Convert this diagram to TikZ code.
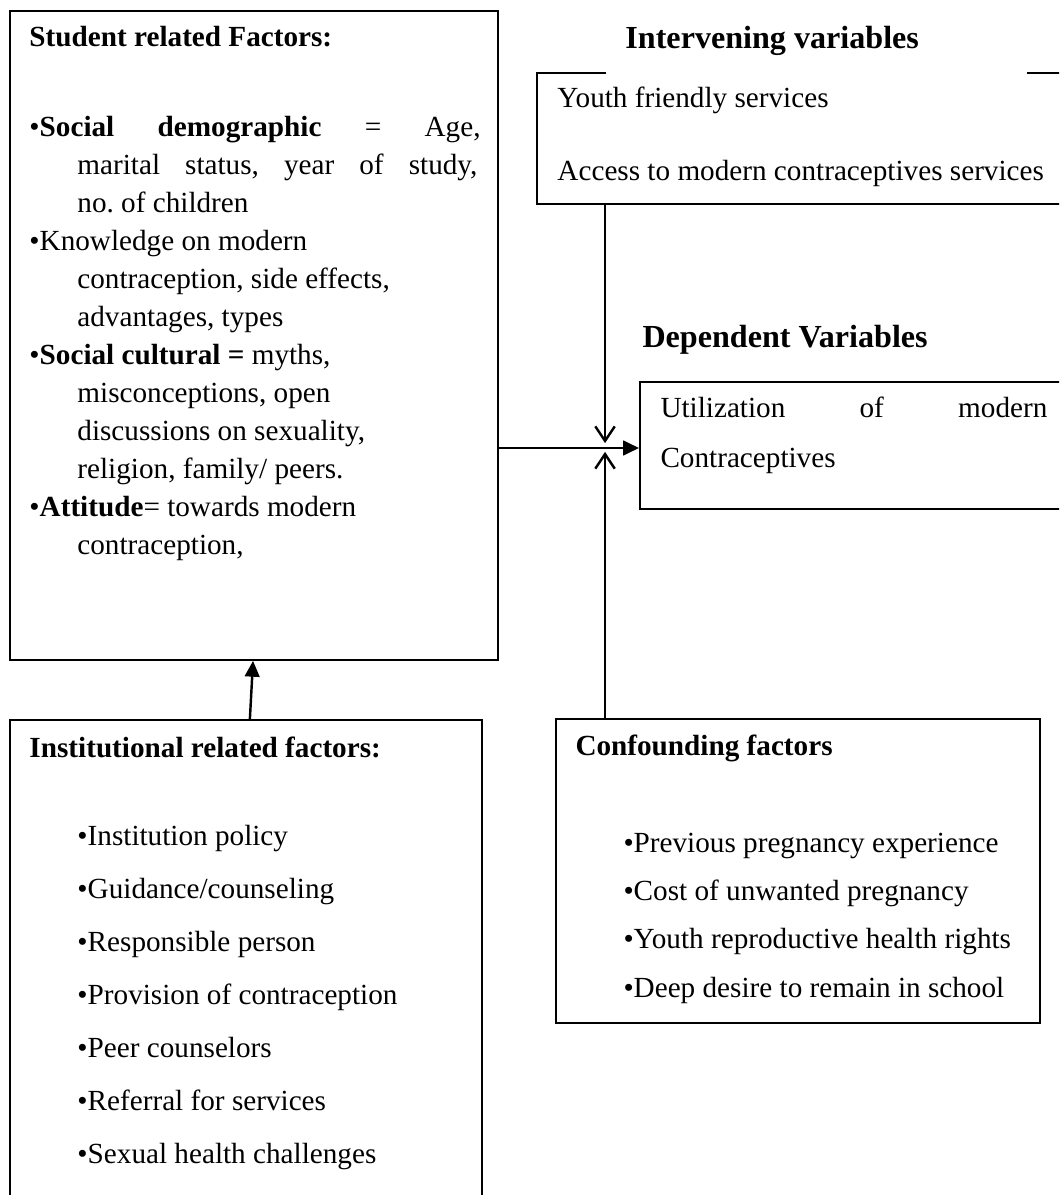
\documentclass[tikz,border=0pt]{standalone}
\usepackage{fontspec}
\setmainfont{Liberation Serif}
\usetikzlibrary{arrows.meta}
\newcommand{\contline}{\hspace*{19.7pt}}

\begin{document}
\begin{tikzpicture}[
  x=0.411pt,y=-0.411pt,
  box/.style={draw,line width=0.8pt,inner sep=0pt,anchor=north west},
  head/.style={anchor=base west,inner sep=0pt,font=\bfseries\fontsize{12}{14}\selectfont},
  title/.style={anchor=base west,inner sep=0pt,font=\bfseries\fontsize{13.2}{16}\selectfont},
  body/.style={anchor=base west,inner sep=0pt,align=flush left},
  arrow/.style={-{Triangle[length=6.5pt,width=6pt]},line width=1pt},
  openarrow/.style={-{Straight Barb[length=6pt,width=8pt]},line width=1pt}
]
\useasboundingbox (0,0) rectangle (1059,1195);
\clip (0,0) rectangle (1059,1195);
% boxes
\node[box,minimum width=200.6pt,minimum height=266.7pt] (student) at (9,10) {};
\node[box,minimum width=221.5pt,minimum height=53.8pt] (interv) at (536,72) {};
\node[box,minimum width=179.2pt,minimum height=52.2pt] (dep) at (639,381) {};
\node[box,minimum width=194pt,minimum height=203.9pt] (inst) at (9,719) {};
\node[box,minimum width=198.9pt,minimum height=124.9pt] (conf) at (555,718) {};
% student related factors
\node[head] (studenthead) at (29,47) {Student related Factors:};
\node[body,text width=186pt,font=\fontsize{12}{15.6}\selectfont] (studentlist) at (29,137) {%
\makebox[185.4pt]{•\textbf{Social}\hfill\textbf{demographic}\hfill=\hfill Age,}\\
\contline\makebox[164.4pt]{marital\hfill status,\hfill year\hfill of\hfill study,}\\
\contline no.\ of children\\
•Knowledge on modern\\
\contline contraception, side effects,\\
\contline advantages, types\\
•\textbf{Social cultural =} myths,\\
\contline misconceptions, open\\
\contline discussions on sexuality,\\
\contline religion, family/ peers.\\
•\textbf{Attitude}= towards modern\\
\contline contraception,};
% intervening variables
\node[title,fill=white,inner xsep=8.2pt,inner ysep=8pt,text width=157pt,align=flush left] (intervtitle) at (605,49) {Intervening variables};
\node[body,text width=210pt,font=\fontsize{12}{29.6}\selectfont] (intervtext) at (557,108) {Youth friendly services\\Access to modern contraceptives services};
% dependent variables
\node[title] (deptitle) at (642,348) {Dependent Variables};
\node[body,text width=165pt,font=\fontsize{12}{20.5}\selectfont] (deptext) at (660,418) {\makebox[159pt]{Utilization\hfill of\hfill modern}\\Contraceptives};
% institutional related factors
\node[head] (insthead) at (29,757) {Institutional related factors:};
\node[body,text width=170pt,font=\fontsize{12}{21.8}\selectfont] (instlist) at (77,845) {%
•Institution policy\\
•Guidance/counseling\\
•Responsible person\\
•Provision of contraception\\
•Peer counselors\\
•Referral for services\\
•Sexual health challenges};
% confounding factors
\node[head] (confhead) at (575,755) {Confounding factors};
\node[body,text width=170pt,font=\fontsize{12}{19.9}\selectfont] (conflist) at (623,852) {%
•Previous pregnancy experience\\
•Cost of unwanted pregnancy\\
•Youth reproductive health rights\\
•Deep desire to remain in school};
% connectors
\coordinate (meet) at (605,448);
\draw[arrow] (meet -| student.east) -- (meet -| dep.west);
\draw[openarrow] (interv.south -| meet) -- ([yshift=2pt]meet);
\draw[openarrow] (conf.north -| meet) -- ([yshift=-1.6pt]meet);
\draw[arrow] ([xshift=1.6pt]inst.north) -- ([xshift=-0.4pt]student.south);
\end{tikzpicture}
\end{document}
